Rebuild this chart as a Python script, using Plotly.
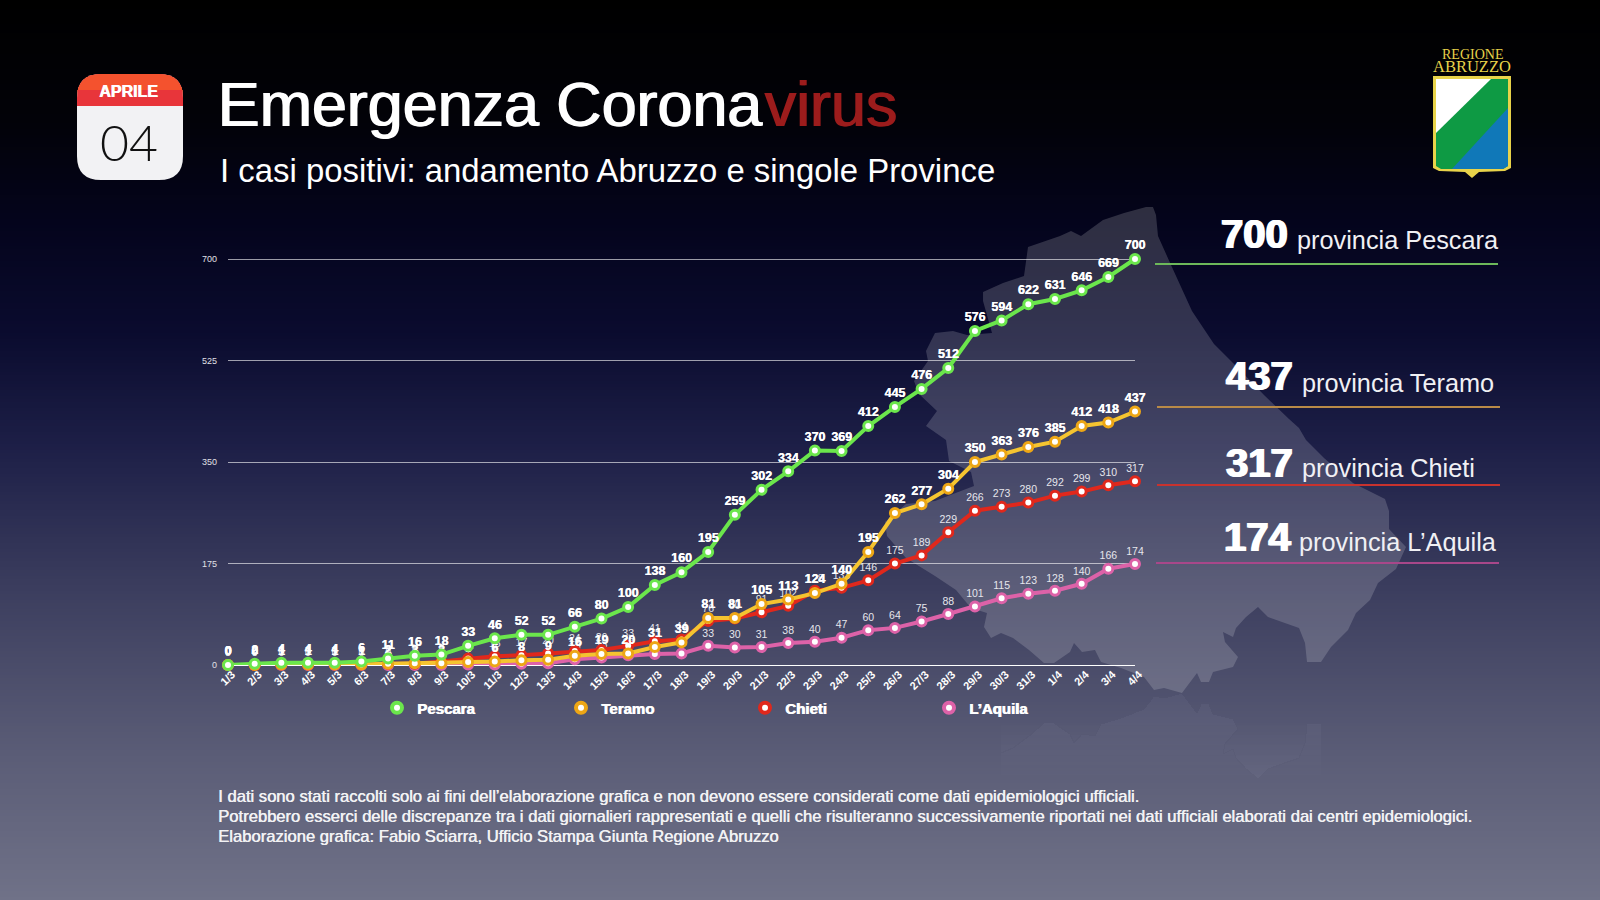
import plotly.graph_objects as go

dates = ["1/3", "2/3", "3/3", "4/3", "5/3", "6/3", "7/3", "8/3", "9/3", "10/3", "11/3", "12/3",
         "13/3", "14/3", "15/3", "16/3", "17/3", "18/3", "19/3", "20/3", "21/3", "22/3", "23/3",
         "24/3", "25/3", "26/3", "27/3", "28/3", "29/3", "30/3", "31/3", "1/4", "2/4", "3/4", "4/4"]
pescara = [0, 2, 4, 4, 4, 6, 11, 16, 18, 33, 46, 52, 52, 66, 80, 100, 138, 160, 195, 259, 302, 334,
           370, 369, 412, 445, 476, 512, 576, 594, 622, 631, 646, 669, 700]
teramo = [0, 0, 1, 1, 1, 1, 2, 3, 3, 5, 6, 8, 9, 16, 19, 20, 31, 39, 81, 81, 105, 113, 124, 140,
          195, 262, 277, 304, 350, 363, 376, 385, 412, 418, 437]
chieti = [0, 0, 1, 1, 1, 1, 2, 2, 6, 11, 15, 17, 20, 24, 26, 33, 41, 44, 76, 80, 91, 102, 128, 133,
          146, 175, 189, 229, 266, 273, 280, 292, 299, 310, 317]
laquila = [0, 0, 0, 0, 0, 0, 0, 0, 0, 1, 1, 2, 3, 10, 13, 17, 19, 20, 33, 30, 31, 38, 40, 47, 60,
           64, 75, 88, 101, 115, 123, 128, 140, 166, 174]
y_ticks = [0, 175, 350, 525, 700]

FONT = "Liberation Sans"
W, H = 1600, 900


def px(x):
    return x / W


def py(y):
    return 1 - y / H


def path(points):
    return "M" + " L".join(f"{px(x):.5f},{py(y):.5f}" for x, y in points) + " Z"


def rounded(x0, y0, x1, y1, r_top, r_bottom):
    return (f"M{px(x0 + r_top):.5f},{py(y0):.5f} L{px(x1 - r_top):.5f},{py(y0):.5f} "
            f"Q{px(x1):.5f},{py(y0):.5f} {px(x1):.5f},{py(y0 + r_top):.5f} "
            f"L{px(x1):.5f},{py(y1 - r_bottom):.5f} "
            f"Q{px(x1):.5f},{py(y1):.5f} {px(x1 - r_bottom):.5f},{py(y1):.5f} "
            f"L{px(x0 + r_bottom):.5f},{py(y1):.5f} "
            f"Q{px(x0):.5f},{py(y1):.5f} {px(x0):.5f},{py(y1 - r_bottom):.5f} "
            f"L{px(x0):.5f},{py(y0 + r_top):.5f} "
            f"Q{px(x0):.5f},{py(y0):.5f} {px(x0 + r_top):.5f},{py(y0):.5f} Z")


shapes = []


def add_path(d, color):
    shapes.append(dict(type="path", xref="paper", yref="paper", path=d, fillcolor=color,
                       line=dict(width=0), layer="below"))


# background gradient, every band runs down to the page bottom so no seams show
stops = [(0, (0, 0, 0)), (120, (2, 2, 8)), (220, (4, 4, 28)), (330, (10, 11, 46)), (450, (30, 32, 72)),
         (600, (62, 64, 96)), (750, (90, 92, 118)), (900, (112, 114, 136))]
for y in range(0, H, 3):
    for (a, ca), (b, cb) in zip(stops, stops[1:]):
        if a <= y <= b:
            t = (y - a) / (b - a)
            c = [round(ca[i] + (cb[i] - ca[i]) * t) for i in range(3)]
            break
    shapes.append(dict(type="rect", xref="paper", yref="paper", x0=0, x1=1, y0=0, y1=py(y),
                       fillcolor=f"rgb({c[0]},{c[1]},{c[2]})", line=dict(width=0), layer="below"))

# map of the region behind the chart, in page pixels
map_coast = [(1153, 207), (1156, 215), (1158, 236), (1171, 265), (1192, 311), (1214, 344), (1239, 369),
             (1264, 395), (1289, 419), (1299, 428), (1306, 440), (1324, 458), (1353, 483), (1385, 499),
             (1389, 511), (1389, 529), (1406, 547), (1396, 569), (1378, 583)]
map_south = [(1370, 600), (1356, 613), (1348, 630), (1331, 647), (1321, 662), (1307, 662), (1305, 643),
             (1299, 628), (1282, 622), (1268, 617), (1258, 607), (1246, 617), (1236, 628), (1233, 637),
             (1223, 632), (1225, 642), (1238, 657), (1233, 667), (1213, 672), (1209, 682), (1201, 682),
             (1197, 673), (1182, 693), (1164, 688), (1154, 690), (1144, 677), (1121, 668), (1101, 662),
             (1095, 650), (1082, 652), (1074, 643), (1070, 652), (1054, 663), (1044, 663), (1029, 650),
             (1013, 638), (1001, 633), (991, 638), (984, 627), (987, 613)]
map_west = [(971, 608), (956, 590), (935, 576), (906, 558), (887, 536), (885, 522), (906, 504), (935, 501),
            (953, 494), (974, 486), (971, 472), (949, 461), (946, 440), (926, 426), (937, 411), (919, 394),
            (914, 381), (928, 361), (926, 351), (935, 333), (953, 331), (967, 335), (992, 333), (983, 301),
            (983, 292), (1003, 283), (1024, 276), (1028, 247), (1060, 236), (1071, 231), (1081, 236),
            (1103, 220), (1124, 213), (1146, 207)]
add_path(path(map_coast + map_south + map_west), "rgba(255,255,255,0.17)")
# faint mirror image of the map under the axis, fading out downwards
mirror = [(x, 2 * 693 - y) for x, y in map_south if 1000 < x < 1325]
for bottom in range(725, 785, 10):
    add_path(path(mirror + [(mirror[-1][0], bottom), (mirror[0][0], bottom)]), "rgba(255,255,255,0.007)")

# calendar
add_path(rounded(77, 74, 183, 180, 24, 24), "#f2f2f4")
add_path(rounded(77, 74, 183, 106, 24, 0), "#e8353a")
add_path(rounded(77, 74, 183, 90, 24, 0), "#f4522e")

# logo
add_path(path([(1433, 76), (1511, 76), (1511, 168), (1505, 171), (1479, 172), (1472, 178), (1465, 172),
               (1439, 171), (1433, 168)]), "#e8d34a")
add_path(path([(1436, 79), (1508, 79), (1508, 166), (1503, 169), (1441, 169), (1436, 166)]), "#0e9a44")
add_path(path([(1436, 79), (1491, 79), (1436, 133)]), "#ffffff")
add_path(path([(1508, 108), (1452, 169), (1503, 169), (1508, 166)]), "#1078b8")

# totals on the right, with the rule under each one
callouts = [("700", "provincia Pescara", 1220, 1296, 234, 240, 264, 1155, 1498, "#6db85a"),
            ("437", "provincia Teramo", 1225, 1301, 376, 383, 407, 1157, 1500, "#b98a47"),
            ("317", "provincia Chieti", 1225, 1301, 463, 468, 485, 1157, 1500, "#c8322e"),
            ("174", "provincia L’Aquila", 1223, 1298, 537, 542, 563, 1156, 1499, "#a8478a")]
for *_, rule_y, x0, x1, color in callouts:
    shapes.append(dict(type="line", xref="paper", yref="paper", x0=px(x0), x1=px(x1), y0=py(rule_y),
                       y1=py(rule_y), line=dict(color=color, width=2)))


def text(s, x, y, size, color="#ffffff", anchor="left", family=FONT, weight="normal", shadow="none"):
    return dict(text=s, x=px(x), y=py(y), xref="paper", yref="paper", showarrow=False, xanchor=anchor,
                yanchor="middle", borderpad=0,
                font=dict(family=family, size=size, color=color, weight=weight, shadow=shadow))


foot = "#f2f2f4"
foot_shadow = "0.5px 0 0 #f2f2f4"
annotations = [
    text("Emergenza Corona", 216, 104, 62.8, shadow="1.5px 0 0 #ffffff"),
    text("virus", 763, 104, 62.8, color="#9c1c1c", shadow="1.5px 0 0 #9c1c1c"),
    text("I casi positivi: andamento Abruzzo e singole Province", 219, 170, 32.9),
    text("APRILE", 128, 91, 16, anchor="center", weight="bold", shadow="0.7px 0 0 #ffffff"),
    text("04", 129, 142, 50, color="#111111", anchor="center", family="Lato", weight=300),
    text("REGIONE", 1472, 54, 14, color="#e8d34a", anchor="center", family="Liberation Serif"),
    text("ABRUZZO", 1472, 66, 16.5, color="#e8d34a", anchor="center", family="Liberation Serif"),
    text("I dati sono stati raccolti solo ai fini dell’elaborazione grafica e non devono essere "
         "considerati come dati epidemiologici ufficiali.", 217, 796, 16.6, color=foot, shadow=foot_shadow),
    text("Potrebbero esserci delle discrepanze tra i dati giornalieri rappresentati e quelli che "
         "risulteranno successivamente riportati nei dati ufficiali elaborati dai centri epidemiologici.",
         217, 816, 16.6, color=foot, shadow=foot_shadow),
    text("Elaborazione grafica: Fabio Sciarra, Ufficio Stampa Giunta Regione Abruzzo", 217, 836, 16.6,
         color=foot, shadow=foot_shadow),
]
for total, name, x_num, x_name, y_num, y_name, *_ in callouts:
    annotations.append(text(total, x_num, y_num, 40, weight="bold", shadow="1px 0 0 #ffffff, -1px 0 0 #ffffff"))
    annotations.append(text(name, x_name, y_name, 25.3, color="#f0f0f4"))

series = [
    ("L'Aquila", laquila, "#dd62a8", "#dd62a8", "normal", 10.5, "#e6e6ec", "none"),
    ("Chieti", chieti, "#e0281c", "#e0281c", "normal", 10.5, "#e6e6ec", "none"),
    ("Teramo", teramo, "#f5c430", "#eda615", "bold", 12.5, "#ffffff", "0.4px 0 0 #ffffff"),
    ("Pescara", pescara, "#6be64c", "#6be64c", "bold", 12.5, "#ffffff", "0.4px 0 0 #ffffff"),
]

fig = go.Figure()
for name, values, line_color, marker_color, weight, size, label_color, shadow in series:
    fig.add_trace(go.Scatter(
        x=dates,
        y=values,
        name=name,
        mode="lines+markers+text",
        text=[str(v) for v in values],
        textposition="top center",
        textfont=dict(family=FONT, size=size, color=label_color, weight=weight, shadow=shadow),
        line=dict(color=line_color, width=4),
        marker=dict(size=9, color="#ffffff", line=dict(color=marker_color, width=3)),
        cliponaxis=False,
        showlegend=False,
    ))
    # legend entry shows the marker only, the reference has no long line sample
    fig.add_trace(go.Scatter(
        x=[None],
        y=[None],
        name=name.replace("'", "’"),
        mode="markers",
        marker=dict(size=10, color="#ffffff", line=dict(color=marker_color, width=4)),
    ))

fig.update_layout(
    width=W,
    height=H,
    margin=dict(l=0, r=0, t=0, b=0),
    paper_bgcolor="#000000",
    plot_bgcolor="rgba(0,0,0,0)",
    shapes=shapes,
    annotations=annotations,
    xaxis=dict(
        type="category",
        automargin=False,
        domain=[px(228), px(1135)],
        range=[0, 34],
        showgrid=False,
        showline=False,
        zeroline=False,
        ticks="",
        tickangle=-45,
        ticklabelshift=4,
        tickfont=dict(family=FONT, size=11, color="#ffffff", weight="bold"),
    ),
    yaxis=dict(
        automargin=False,
        domain=[py(665), py(256.1)],
        range=[0, 705],
        tickvals=y_ticks,
        showgrid=True,
        gridcolor="rgba(255,255,255,0.6)",
        gridwidth=1,
        zeroline=True,
        zerolinecolor="#ffffff",
        zerolinewidth=1,
        ticks="",
        ticklabelstandoff=10,
        tickfont=dict(family=FONT, size=9, color="#e0e0e6"),
    ),
    legend=dict(
        orientation="h",
        traceorder="reversed",
        x=px(377),
        xanchor="left",
        y=py(708),
        yanchor="middle",
        entrywidth=139,
        entrywidthmode="pixels",
        bgcolor="rgba(0,0,0,0)",
        font=dict(family=FONT, size=15, color="#ffffff", weight="bold", shadow="0.8px 0 0 #ffffff"),
    ),
)

fig.write_html("out.html", config=dict(displayModeBar=False), post_script="document.body.style.margin = '0';")
